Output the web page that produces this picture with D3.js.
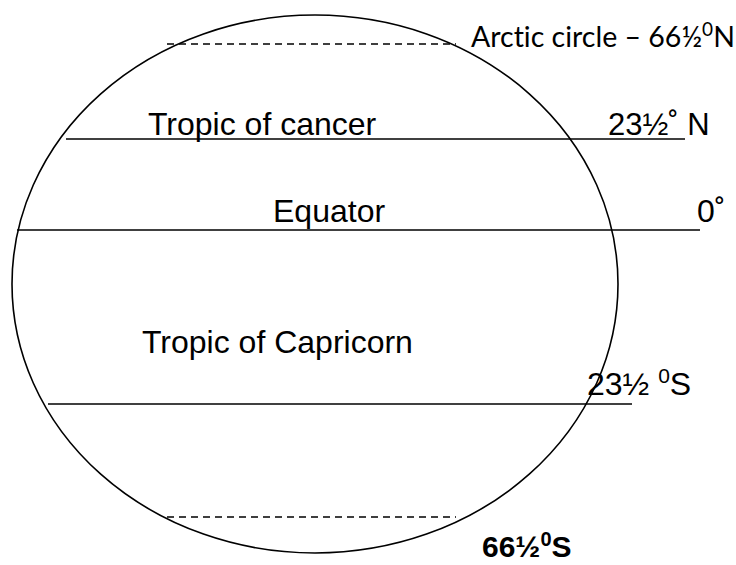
<!DOCTYPE html>
<html>
<head>
<meta charset="utf-8">
<script src="https://cdnjs.cloudflare.com/ajax/libs/d3/7.8.5/d3.min.js"></script>
<style>
  html, body { margin: 0; padding: 0; background: #fff; }
  text { font-family: "Liberation Sans", Arial, sans-serif; fill: #000; font-variant-ligatures: none; }
</style>
</head>
<body>
<div id="globe"></div>
<script>
// latitudes of the marked circles (degrees, north positive)
var latitudes = [66.5, 23.5, 0, -23.5, -66.5];
var circleNames = ["Arctic circle", "Tropic of cancer", "Equator", "Tropic of Capricorn", "Antarctic circle"];
var dashed = [true, false, false, false, true];
// degree labels: [main text, superscript, trailing text]
var degreeLabels = [
  ["Arctic circle \u2013 66\u00bd", "0", "N"],
  ["23\u00bd\u02da N", "", ""],
  ["0\u02da", "", ""],
  ["23\u00bd ", "0", "S"],
  ["66\u00bd", "0", "S"]
];

var width = 736, height = 565;

var svg = d3.select("#globe").append("svg")
    .attr("width", width)
    .attr("height", height);

// drawing is not to scale, so map latitude piecewise
var y = d3.scaleLinear()
    .domain(latitudes)
    .range([44, 139, 230, 404, 517]);

// globe outline
svg.append("ellipse")
    .attr("cx", 315)
    .attr("cy", 284)
    .attr("rx", 303)
    .attr("ry", 269)
    .attr("fill", "none")
    .attr("stroke", "#000")
    .attr("stroke-width", 1.6);

// horizontal extents of each line (layout only)
var lineSpan = [[167, 456], [66, 685], [17, 700], [48, 632], [167, 456]];

svg.selectAll(".lat")
    .data(latitudes)
    .enter().append("line")
    .attr("class", "lat")
    .attr("x1", function(d, i) { return lineSpan[i][0]; })
    .attr("x2", function(d, i) { return lineSpan[i][1]; })
    .attr("y1", function(d) { return y(d); })
    .attr("y2", function(d) { return y(d); })
    .attr("stroke", "#000")
    .attr("stroke-width", 1.6)
    .attr("stroke-dasharray", function(d, i) { return dashed[i] ? "7,5" : null; });

// names written above the lines (arctic / antarctic names are part of the degree label)
var nameX = [null, 148, 273, 142, null];
var nameY = [null, 135, 222, 353, null];
svg.selectAll(".name")
    .data(latitudes.filter(function(d, i) { return nameX[i] !== null; }))
    .enter().append("text")
    .attr("class", "name")
    .attr("x", function(d) { return nameX[latitudes.indexOf(d)]; })
    .attr("y", function(d) { return nameY[latitudes.indexOf(d)]; })
    .style("font-size", "32px")
    .text(function(d) { return circleNames[latitudes.indexOf(d)]; });

// degree labels
var labelX = [471, 608, 697, 587, 482];
var labelY = [47, 135, 222, 395, 557];
var labelFont = [
  {family: "Lato, 'Open Sans', sans-serif", size: 28.5, weight: "normal"},
  {family: null, size: 31, weight: "normal"},
  {family: null, size: 32, weight: "normal"},
  {family: null, size: 32, weight: "normal"},
  {family: null, size: 30, weight: "bold"}
];

var labels = svg.selectAll(".deg")
    .data(latitudes)
    .enter().append("text")
    .attr("class", "deg")
    .attr("x", function(d, i) { return labelX[i]; })
    .attr("y", function(d, i) { return labelY[i]; })
    .style("font-family", function(d, i) { return labelFont[i].family; })
    .style("font-size", function(d, i) { return labelFont[i].size + "px"; })
    .style("font-weight", function(d, i) { return labelFont[i].weight; });

labels.each(function(d, i) {
  var t = d3.select(this), parts = degreeLabels[i];
  t.append("tspan").text(parts[0]);
  if (parts[1]) {
    t.append("tspan")
      .attr("dy", -labelFont[i].size * 0.38)
      .style("font-size", Math.round(labelFont[i].size * 0.65) + "px")
      .text(parts[1]);
    t.append("tspan")
      .attr("dy", labelFont[i].size * 0.38)
      .text(parts[2]);
  }
});
</script>
</body>
</html>
